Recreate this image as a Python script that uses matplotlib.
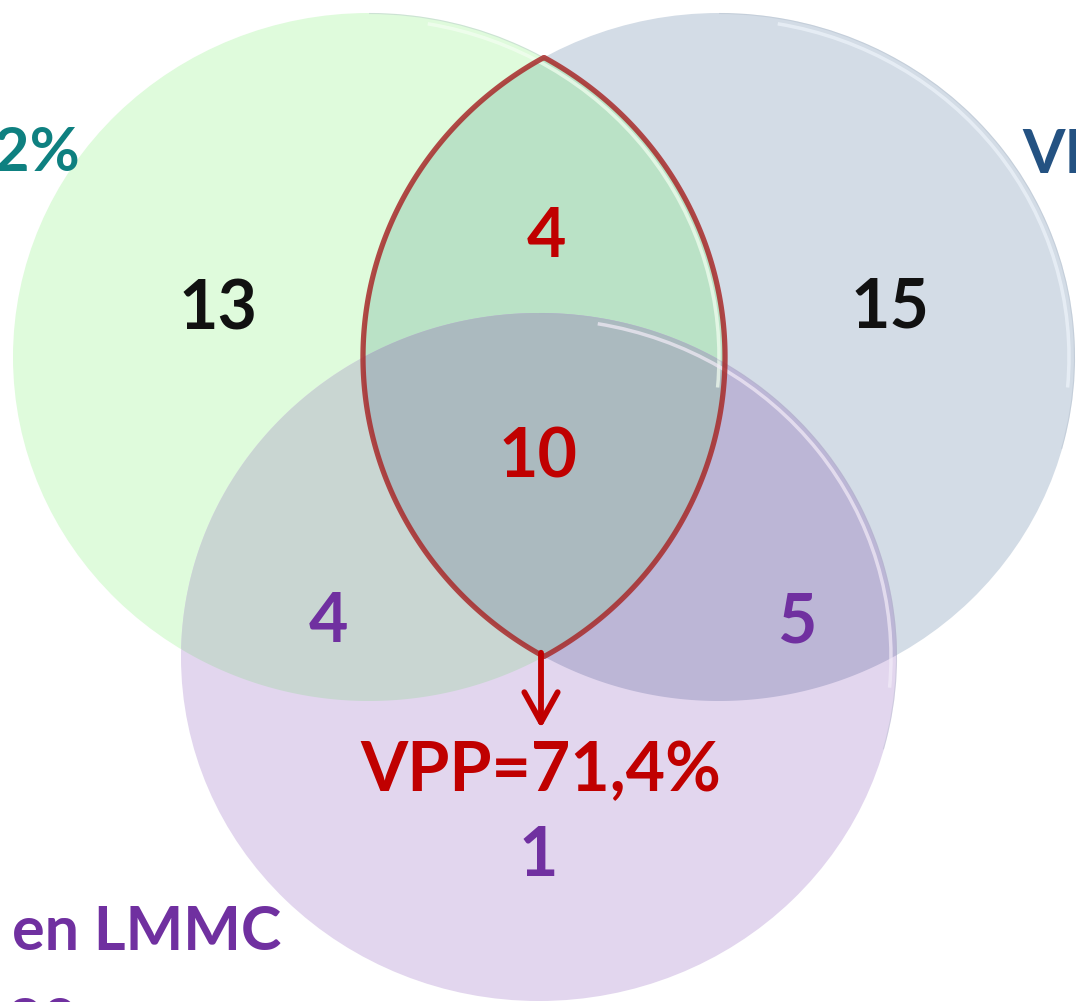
import numpy as np
import matplotlib.pyplot as plt
from matplotlib.patches import Ellipse, Polygon, Arc

plt.rcParams['font.family'] = ['Lato', 'DejaVu Sans']

# region counts
count_labels = ['13', '15', '4', '10', '4', '5', '1']
count_pos = [(218, 310), (890, 308), (546, 237), (538, 458), (328, 623), (797, 623), (538, 857)]
count_colors = ['#111111', '#111111', '#C00000', '#C00000', '#7030A0', '#7030A0', '#7030A0']

vpp_label = 'VPP=71,4%'

# side captions, cut off by the frame as in the original
side_texts = ['VPP=62%', 'VPP=50%', 'en LMMC', 'n=30']
side_pos = [(80, 153, 'right'), (1022, 155, 'left'), (12, 932, 'left'), (78, 1024, 'right')]
side_colors = ['#0E8080', '#245282', '#7030A0', '#7030A0']

# ellipses: centre x, centre y, half width, half height
sets = {
    'G': (369, 357, 356, 344),
    'B': (719, 357, 356, 344),
    'P': (539, 657, 358, 344),
}
fill = {'G': '#DFFBDC', 'B': '#D3DCE6', 'P': '#E2D6EE',
        'GB': '#BAE2C6', 'GP': '#C9D6D2', 'BP': '#BCB6D6', 'GBP': '#ABBABF'}


def boundary(k, n=720):
    cx, cy, a, b = sets[k]
    t = np.linspace(0, 2 * np.pi, n, endpoint=False)
    return np.c_[cx + a * np.cos(t), cy + b * np.sin(t)]


def inside(pts, k):
    cx, cy, a, b = sets[k]
    return ((pts[:, 0] - cx) / a) ** 2 + ((pts[:, 1] - cy) / b) ** 2 <= 1.0 + 1e-9


def intersect(keys):
    pts = []
    for k in keys:
        p = boundary(k, 2000)
        m = np.ones(len(p), bool)
        for o in keys:
            if o != k:
                m &= inside(p, o)
        pts.append(p[m])
    pts = np.vstack(pts)
    c = pts.mean(axis=0)
    ang = np.arctan2(pts[:, 1] - c[1], pts[:, 0] - c[0])
    return pts[np.argsort(ang)]


fig = plt.figure(figsize=(10.76, 10.02), dpi=100)
ax = fig.add_axes([0, 0, 1, 1])
ax.set_xlim(0, 1076)
ax.set_ylim(1002, 0)
ax.axis('off')

for k in ['B', 'G', 'P']:
    cx, cy, a, b = sets[k]
    ax.add_patch(Ellipse((cx, cy), 2 * a, 2 * b, fc=fill[k], ec='none', zorder=1))

for keys in ['GB', 'GP', 'BP', 'GBP']:
    ax.add_patch(Polygon(intersect(keys), closed=True, fc=fill[keys], ec='none', zorder=2))

# soft glossy rims
for k, col in [('G', '#F4FFF2'), ('B', '#EEF4FA'), ('P', '#F3ECF8')]:
    cx, cy, a, b = sets[k]
    ax.add_patch(Arc((cx, cy), 2 * a - 12, 2 * b - 12, theta1=-80, theta2=5,
                     color=col, lw=2.5, alpha=0.7, zorder=3))
    ax.add_patch(Arc((cx, cy), 2 * a - 1, 2 * b - 1, theta1=-90, theta2=15,
                     color='#AAB6C4', lw=0.8, alpha=0.35, zorder=3))

# red lens outline
lens = intersect('GB')
ax.add_patch(Polygon(lens, closed=True, fc='none', ec='#A82A2A', lw=3.8,
                     alpha=0.85, joinstyle='miter', zorder=4))

ax.annotate('', xy=(541, 731), xytext=(541, 650),
            arrowprops=dict(arrowstyle='->,head_length=1.8,head_width=1.0',
                            mutation_scale=12, color='#C00000', lw=4.2), zorder=5)

for lab, (x, y), col in zip(count_labels, count_pos, count_colors):
    ax.text(x, y, lab, color=col, fontsize=49, fontweight='bold',
            ha='center', va='center', zorder=6)

ax.text(541, 772, vpp_label, color='#C00000', fontsize=49, fontweight='bold',
        ha='center', va='center', zorder=6)

for lab, (x, y, ha), col in zip(side_texts, side_pos, side_colors):
    ax.text(x, y, lab, color=col, fontsize=44, fontweight='bold',
            ha=ha, va='center', zorder=6)

fig.savefig('out.png', dpi=100)
